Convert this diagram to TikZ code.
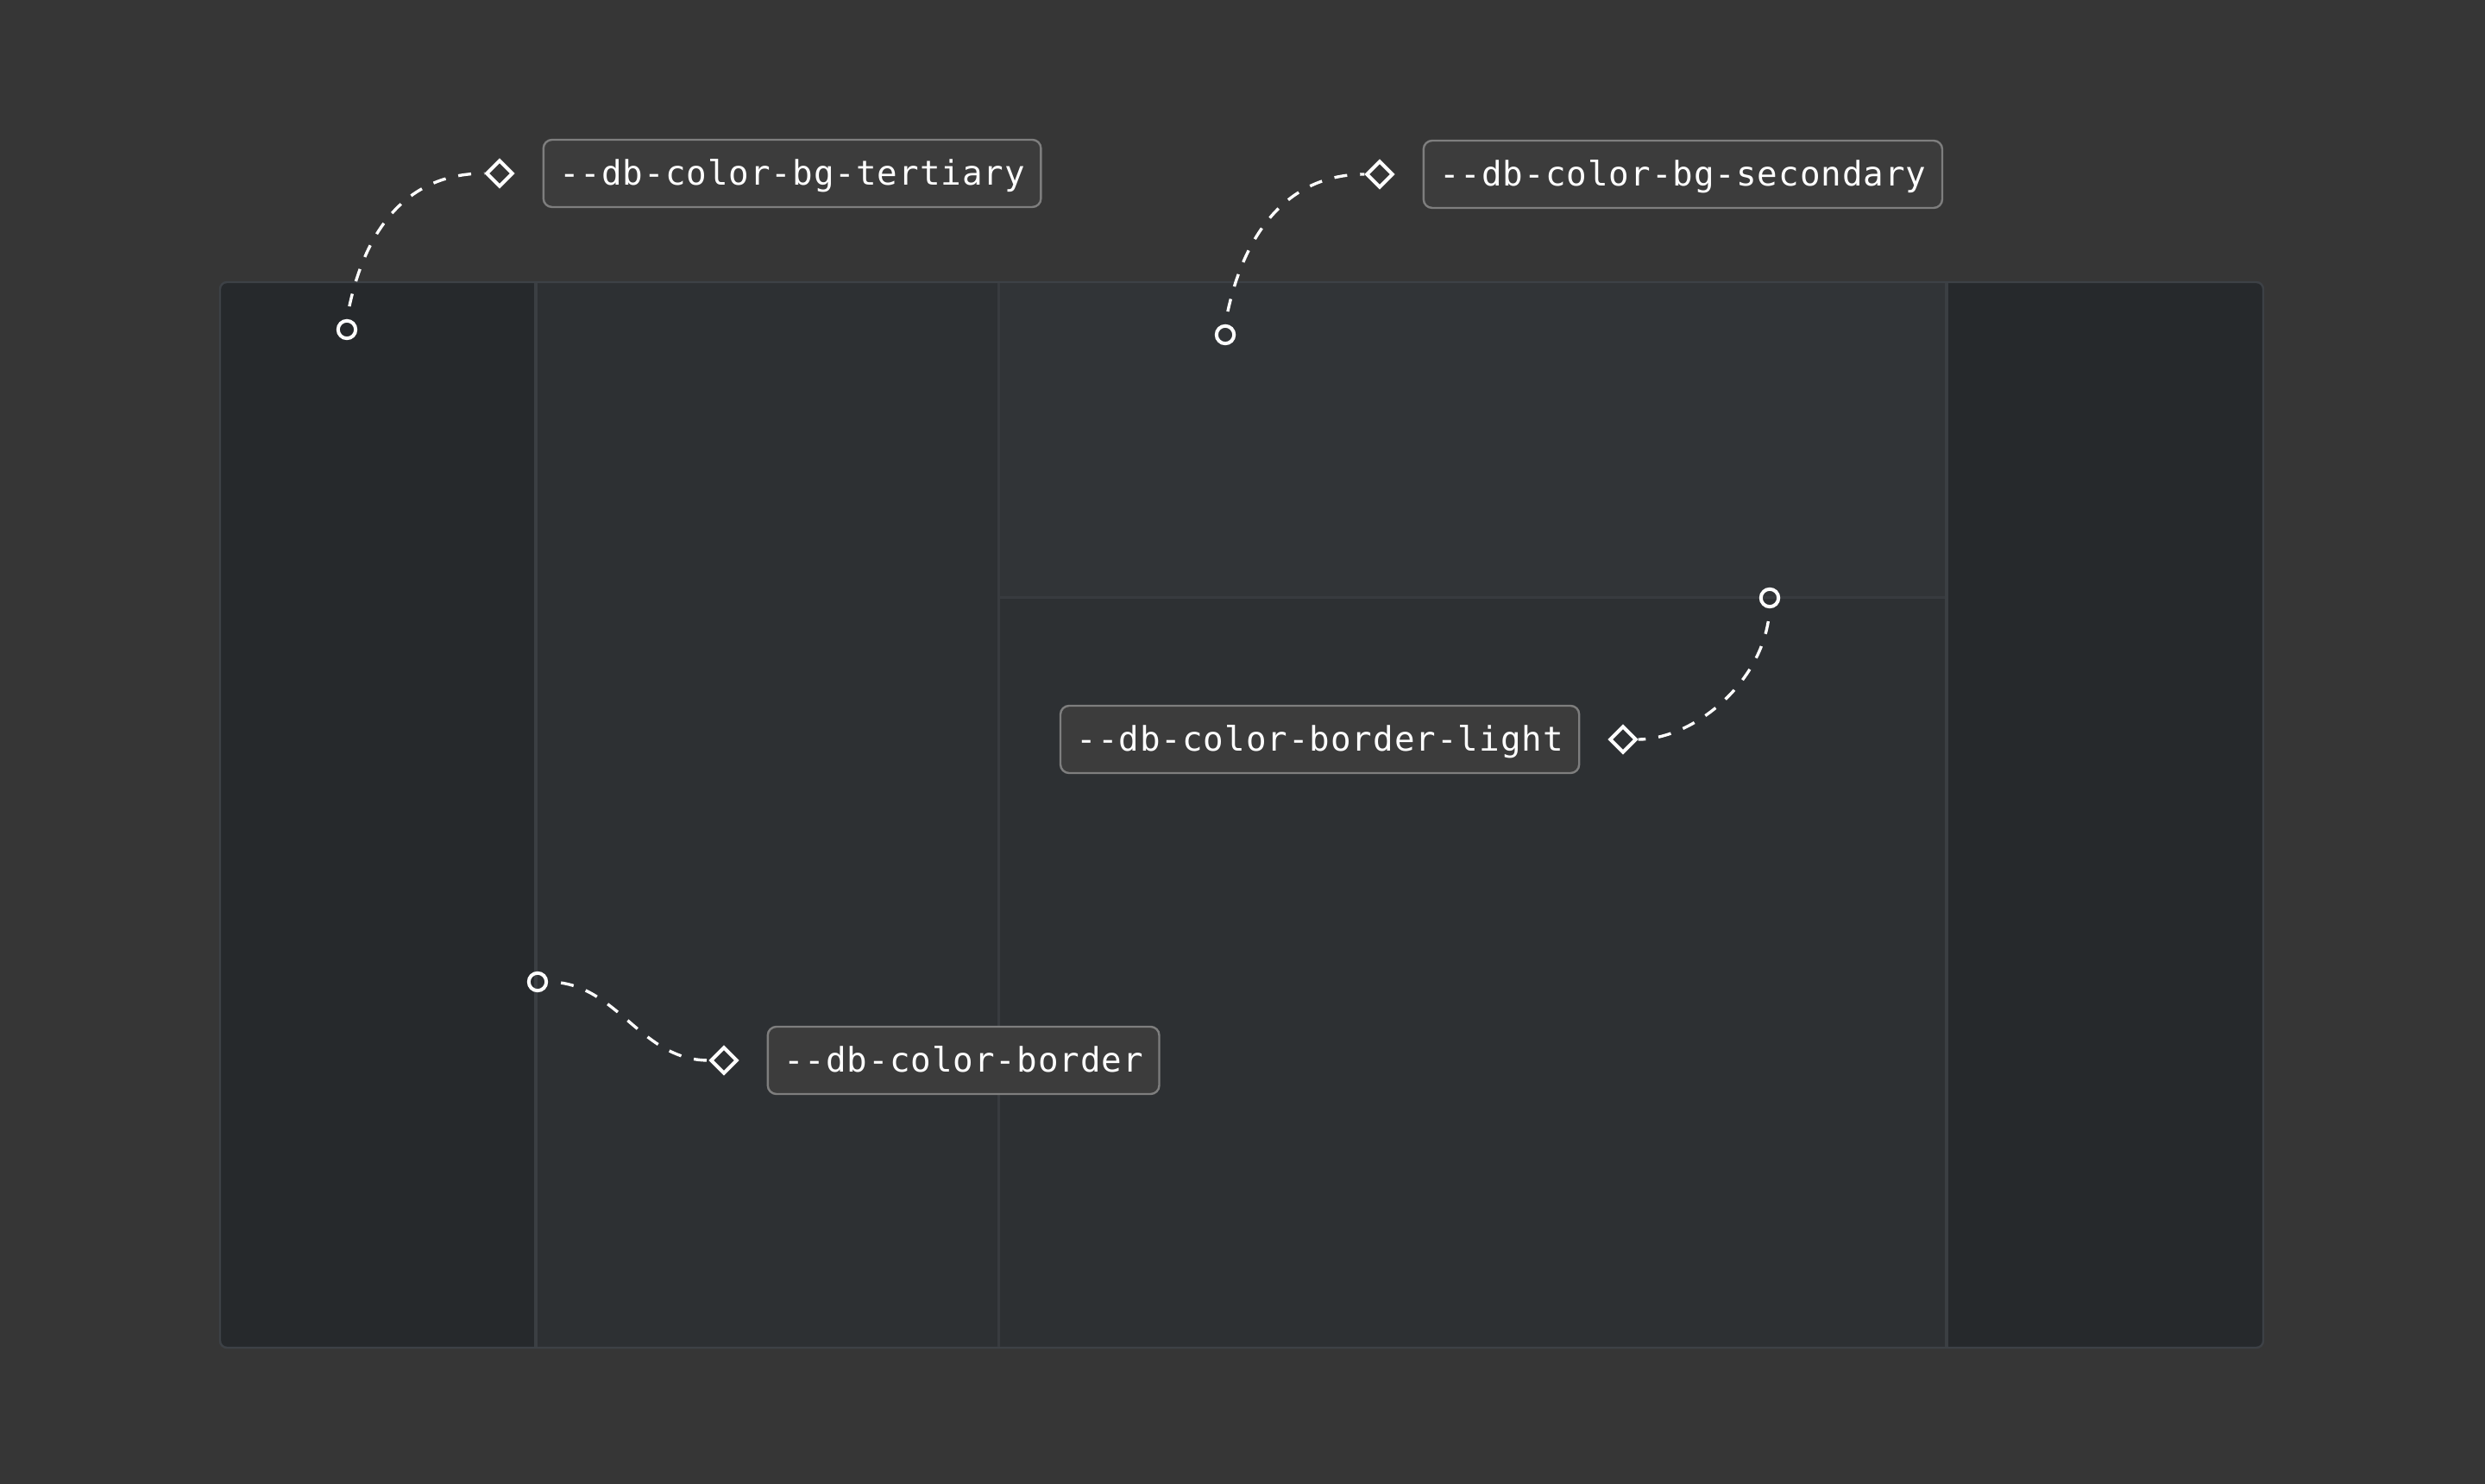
\documentclass[tikz,border=0pt]{standalone}
\usepackage{fontspec}
\newfontfamily\tokenfont{DejaVu Sans Mono}[LetterSpace=2.5]
\usetikzlibrary{positioning,shapes.geometric}

\newlength{\du}
\setlength{\du}{0.25pt}

\definecolor{pagebg}{HTML}{363636}
\definecolor{coldark}{HTML}{26292C}
\definecolor{colmid}{HTML}{2D3033}
\definecolor{coltop}{HTML}{313437}
\definecolor{divline}{HTML}{3B3F43}
\definecolor{divlight}{HTML}{383B3F}
\definecolor{framecol}{HTML}{3D4146}
\definecolor{tokenfill}{HTML}{3C3C3C}
\definecolor{tokenline}{HTML}{7E7E7E}

\tikzset{
  dot/.style={circle,draw=white,line width=1pt,minimum size=5.1pt,inner sep=0pt},
  pin/.style={diamond,draw=white,line width=1pt,minimum width=7.8pt,minimum height=7.8pt,inner sep=0pt},
  token/.style={draw=tokenline,fill=tokenfill,line width=0.6pt,rounded corners=2.5pt,
    text=white,font=\tokenfont\fontsize{9.8pt}{11pt}\selectfont,
    minimum height=19.5pt,inner xsep=4.6pt,text height=7pt,text depth=0pt},
  lead/.style={draw=white,line width=0.85pt,dash pattern=on 3.75pt off 3.75pt,dash phase=3.75pt},
}

\begin{document}
\begin{tikzpicture}
\pgftransformyscale{-1.000000}
% page
\fill[pagebg] (0\du,0\du) rectangle (2880\du,1720\du);
% panel
\begin{scope}
\clip[rounded corners=2pt] (255\du,327\du) rectangle (2623\du,1562\du);
\fill[coldark] (255\du,327\du) rectangle (621\du,1562\du);
\fill[colmid] (621\du,327\du) rectangle (1157\du,1562\du);
\fill[coltop] (1157\du,327\du) rectangle (2256\du,693\du);
\fill[colmid] (1157\du,693\du) rectangle (2256\du,1562\du);
\fill[coldark] (2256\du,327\du) rectangle (2623\du,1562\du);
\end{scope}
\draw[divlight,line width=0.75pt] (1157\du,693\du)--(2256\du,693\du);
\draw[divlight,line width=0.75pt] (1157\du,327\du)--(1157\du,1562\du);
\draw[divline,line width=1pt] (621\du,327\du)--(621\du,1562\du);
\draw[divline,line width=1pt] (2256\du,327\du)--(2256\du,1562\du);
\draw[framecol,line width=0.6pt,rounded corners=2pt] (255\du,327\du) rectangle (2623\du,1562\du);

% bg-tertiary
\node[dot] (tdot) at (402\du,382\du) {};
\node[pin] (tpin) at (579\du,201\du) {};
\node[token,right=8pt of tpin] (tlabel) {-{}-db-color-bg-tertiary};
\draw[lead] (tdot.north) .. controls +(18\du,-101\du) and +(-92\du,0\du) .. (tpin.west);

% bg-secondary
\node[dot] (sdot) at (1420\du,388\du) {};
\node[pin] (spin) at (1599\du,202\du) {};
\node[token,right=8pt of spin] (slabel) {-{}-db-color-bg-secondary};
\draw[lead] (sdot.north) .. controls +(18\du,-101\du) and +(-92\du,0\du) .. (spin.west);

% border-light
\node[dot] (ldot) at (2051\du,693\du) {};
\node[pin] (lpin) at (1881\du,857\du) {};
\node[token,left=8pt of lpin] (llabel) {-{}-db-color-border-light};
\draw[lead] (ldot.south) .. controls +(-5\du,86\du) and +(63\du,0\du) .. (lpin.east);

% border
\node[dot] (bdot) at (623\du,1138\du) {};
\node[pin] (bpin) at (839\du,1229\du) {};
\node[token,right=8pt of bpin] (blabel) {-{}-db-color-border};
\draw[lead] (bdot.east) .. controls +(80\du,0\du) and +(-80\du,0\du) .. (bpin.west);
\end{tikzpicture}
\end{document}
